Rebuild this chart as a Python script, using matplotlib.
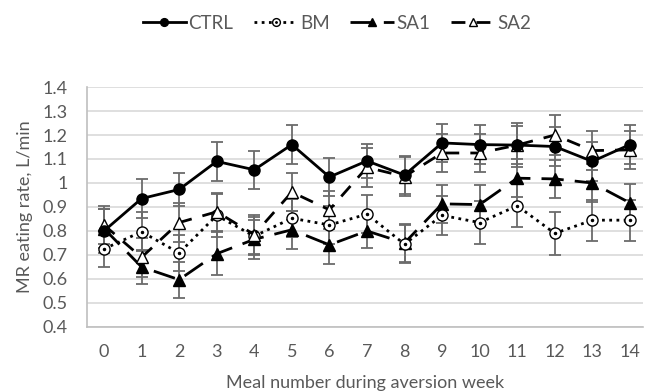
import numpy as np
import matplotlib.pyplot as plt

plt.rcParams['font.family'] = ['Lato', 'DejaVu Sans']

meals = np.arange(15)
ctrl = [0.80, 0.935, 0.973, 1.09, 1.055, 1.16, 1.025, 1.092, 1.033, 1.167, 1.16, 1.158, 1.152, 1.09, 1.16]
ctrl_err = [0.09, 0.08, 0.07, 0.08, 0.08, 0.08, 0.08, 0.07, 0.08, 0.08, 0.08, 0.09, 0.08, 0.08, 0.08]
bm = [0.725, 0.797, 0.708, 0.865, 0.778, 0.853, 0.825, 0.87, 0.745, 0.865, 0.835, 0.905, 0.79, 0.845, 0.845]
bm_err = [0.075, 0.08, 0.075, 0.09, 0.08, 0.08, 0.08, 0.08, 0.08, 0.08, 0.09, 0.09, 0.09, 0.085, 0.085]
sa1 = [0.81, 0.65, 0.597, 0.705, 0.765, 0.805, 0.742, 0.80, 0.75, 0.913, 0.91, 1.02, 1.017, 1.0, 0.917]
sa1_err = [0.08, 0.07, 0.075, 0.09, 0.08, 0.08, 0.08, 0.07, 0.08, 0.08, 0.08, 0.08, 0.08, 0.08, 0.08]
sa2 = [0.825, 0.69, 0.835, 0.88, 0.785, 0.962, 0.888, 1.065, 1.027, 1.125, 1.125, 1.158, 1.20, 1.135, 1.138]
sa2_err = [0.08, 0.08, 0.08, 0.08, 0.08, 0.08, 0.08, 0.08, 0.08, 0.08, 0.08, 0.08, 0.085, 0.08, 0.08]

fig = plt.figure(figsize=(6.45, 3.92), dpi=100)
ax = fig.add_axes([0.135, 0.166, 0.862, 0.612])

ecol = '#6b6b6b'
for y, e in [(ctrl, ctrl_err), (bm, bm_err), (sa1, sa1_err), (sa2, sa2_err)]:
    ax.errorbar(meals, y, yerr=e, fmt='none', ecolor=ecol, elinewidth=1.3, capsize=4, capthick=1.3, zorder=2)

h_ctrl, = ax.plot(meals, ctrl, '-', color='black', lw=2, marker='o', ms=8, zorder=6)
h_bm, = ax.plot(meals, bm, color='black', lw=2, ls=(0, (1, 1.6)), marker='o', ms=8,
                mfc='white', mec='black', mew=1, zorder=4)
h_bmdot, = ax.plot(meals, bm, ls='none', marker='o', ms=1.5, color='black', zorder=4)
h_sa1, = ax.plot(meals, sa1, color='black', lw=2, ls=(0, (8, 4)), marker='^', ms=8.5, zorder=3)
h_sa2, = ax.plot(meals, sa2, color='black', lw=2, ls=(0, (5, 4)), marker='^', ms=8.5,
                 mfc='white', mec='black', mew=1, zorder=5)

ax.set_xlim(-0.45, 14.35)
ax.set_ylim(0.4, 1.4)
ax.set_xticks(meals)
ax.set_yticks(np.arange(0.4, 1.41, 0.1))
ax.set_yticklabels(['0.4', '0.5', '0.6', '0.7', '0.8', '0.9', '1', '1.1', '1.2', '1.3', '1.4'])
ax.grid(axis='y', color='#d9d9d9', lw=1.2)
ax.set_axisbelow(True)
for s in ['top', 'right']:
    ax.spines[s].set_visible(False)
for s in ['left', 'bottom']:
    ax.spines[s].set_color('#bfbfbf')
    ax.spines[s].set_linewidth(1.2)
ax.tick_params(length=0, labelsize=13, colors='#595959')
ax.tick_params(axis='y', pad=14)
ax.tick_params(axis='x', pad=12)
ax.set_xlabel('Meal number during aversion week', fontsize=13, color='#595959', labelpad=11)
ax.set_ylabel('MR eating rate, L/min', fontsize=13, color='#595959', labelpad=7)

fig.legend([h_ctrl, (h_bm, h_bmdot), h_sa1, h_sa2], ['CTRL', 'BM', 'SA1', 'SA2'],
           loc='center', bbox_to_anchor=(0.522, 0.94), ncol=4, frameon=False,
           fontsize=13.5, labelcolor='#595959', handlelength=2.3, handletextpad=0.15,
           columnspacing=1.1, markerscale=0.7)

fig.savefig('out.png', dpi=100)
